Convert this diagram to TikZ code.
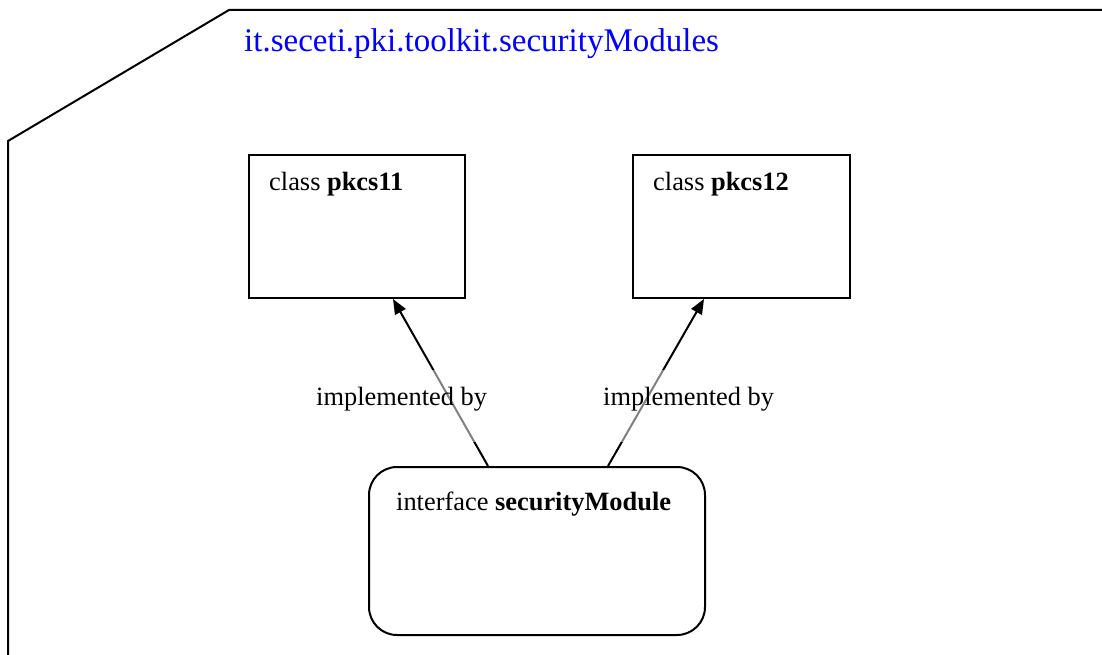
\documentclass[tikz,border=0pt]{standalone}
\usepackage{fontspec}
\setmainfont{Liberation Serif}
\usetikzlibrary{arrows.meta,calc}
\definecolor{pkgblue}{RGB}{0,0,255}
\begin{document}
\begin{tikzpicture}[x=1pt,y=-1pt,
  outline/.style={line width=2pt,line join=miter},
  classbox/.style={draw,line width=2pt,rectangle,inner sep=0pt,anchor=north west},
  ifacebox/.style={draw,line width=2pt,rectangle,rounded corners=28pt,inner sep=0pt,anchor=north west},
  boxtext/.style={anchor=base west,inner sep=0pt,font=\fontsize{26.4}{30}\selectfont},
  realize/.style={line width=2pt,-{Triangle[length=15pt,width=12pt]}},
  edgelabel/.style={anchor=base west,inner xsep=2pt,inner ysep=0pt,text height=35pt,text depth=37pt,
    fill=white,fill opacity=0.5,text opacity=1,font=\fontsize{26.4}{30}\selectfont}]
  \useasboundingbox (0,0) rectangle (1102,655);

  % package frame with its cut corner
  \draw[outline] (8,655) -- (8,141) -- (229,10) -- (1102,10);
  \node[anchor=base west,inner sep=0pt,text=pkgblue,font=\fontsize{33}{38}\selectfont] (pkg) at (244,52)
    {it.seceti.pki.toolkit.securityModules};

  % classes
  \node[classbox,minimum width=216,minimum height=143] (p11) at (248,154) {};
  \node[boxtext] (p11t) at (269,190) {class \textbf{pkcs11}};
  \node[classbox,minimum width=217,minimum height=143] (p12) at (632,154) {};
  \node[boxtext] (p12t) at (653,190) {class \textbf{pkcs12}};

  % interface
  \node[ifacebox,minimum width=336,minimum height=168] (sm) at (368,466) {};
  \node[boxtext] (smt) at (396,510) {interface \textbf{securityModule}};

  % realization connectors
  \coordinate (s1) at ($(sm.north west)+(120,0)$);
  \coordinate (s2) at ($(sm.north west)+(240,0)$);
  \coordinate (t1) at ($(p11.south west)+(145,0)$);
  \coordinate (t2) at ($(p12.south west)+(72,0)$);
  \draw[realize] (s1) -- (t1);
  \draw[realize] (s2) -- (t2);

  \node[edgelabel] (l1) at (314,405) {implemented by};
  \node[edgelabel] (l2) at (601,405) {implemented by};
\end{tikzpicture}
\end{document}
